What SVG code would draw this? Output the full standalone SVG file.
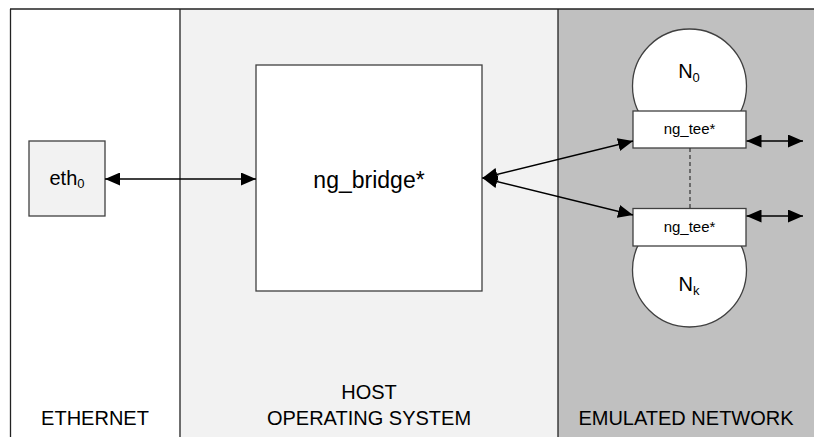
<svg xmlns="http://www.w3.org/2000/svg" width="814" height="437" viewBox="0 0 814 437">
  <style>
    text { font-family: "Liberation Sans", Arial, sans-serif; fill: #000; }
    .lbl { font-size: 20px; text-anchor: middle; }
    .big { font-size: 23px; text-anchor: middle; }
    .tee { font-size: 15px; text-anchor: middle; }
    .box { stroke: #404040; stroke-width: 1.3; }
    .link { stroke: #000; stroke-width: 1.3; fill: none; marker-start: url(#head); marker-end: url(#head); }
    .edge { stroke: #222; stroke-width: 1.3; }
  </style>
  <defs>
    <marker id="head" viewBox="0 0 15 13" refX="15" refY="6.5" markerWidth="15" markerHeight="13" markerUnits="userSpaceOnUse" orient="auto-start-reverse">
      <path d="M0,0 L15,6.5 L0,13 Z" fill="#000"/>
    </marker>
  </defs>

  <!-- domain panels -->
  <g id="panels">
    <rect x="10.5" y="9" width="169.5" height="428" fill="#ffffff"/>
    <rect x="180" y="9" width="378" height="428" fill="#f2f2f2"/>
    <rect x="558" y="9" width="256" height="428" fill="#c0c0c0"/>
    <line class="edge" x1="10" y1="9" x2="814" y2="9"/>
    <line class="edge" x1="10.5" y1="9" x2="10.5" y2="437"/>
    <line class="edge" x1="180" y1="9" x2="180" y2="437"/>
    <line class="edge" x1="558" y1="9" x2="558" y2="437" stroke="#555"/>
    <text class="lbl" x="95" y="425">ETHERNET</text>
    <text class="lbl" x="369" y="399">HOST</text>
    <text class="lbl" x="369" y="425">OPERATING SYSTEM</text>
    <text class="lbl" x="686" y="425">EMULATED NETWORK</text>
  </g>

  <!-- network nodes N0 / Nk (drawn under the tee boxes) -->
  <g id="node-n0">
    <circle class="box" cx="689.5" cy="86" r="57" fill="#fff" stroke="#222"/>
    <text class="lbl" x="689" y="78" font-size="21">N<tspan font-size="13" dy="4">0</tspan></text>
  </g>
  <g id="node-nk">
    <circle class="box" cx="689.5" cy="270" r="57" fill="#fff" stroke="#222"/>
    <text class="lbl" x="689" y="291" font-size="21">N<tspan font-size="13" dy="4">k</tspan></text>
  </g>

  <g id="node-eth0">
    <rect class="box" x="29" y="141" width="76" height="75" fill="#f2f2f2"/>
    <text x="67" y="185" font-size="20" text-anchor="middle">eth<tspan font-size="13" dy="3">0</tspan></text>
  </g>

  <g id="node-ng-bridge">
    <rect class="box" x="256" y="65" width="226" height="226" fill="#fff"/>
    <text class="big" x="369" y="188">ng_bridge*</text>
  </g>

  <g id="node-tee-0">
    <rect class="box" x="633" y="111" width="113" height="37" fill="#fff" stroke="#222"/>
    <text class="tee" x="689.5" y="134">ng_tee*</text>
  </g>
  <g id="node-tee-k">
    <rect class="box" x="633" y="208.5" width="113" height="37.5" fill="#fff" stroke="#222"/>
    <text class="tee" x="689.5" y="232">ng_tee*</text>
  </g>

  <!-- connectors -->
  <g id="connectors">
    <line class="link" x1="105" y1="179" x2="256" y2="179"/>
    <line class="link" x1="482.5" y1="178" x2="633" y2="141"/>
    <line class="link" x1="482.5" y1="178" x2="633" y2="215"/>
    <line class="link" x1="746.5" y1="141" x2="803" y2="141" stroke="#404040"/>
    <line class="link" x1="746.5" y1="216" x2="803" y2="216"/>
    <line x1="690" y1="148" x2="690" y2="208.5" stroke="#333" stroke-width="1.2" stroke-dasharray="4,3"/>
  </g>
</svg>
